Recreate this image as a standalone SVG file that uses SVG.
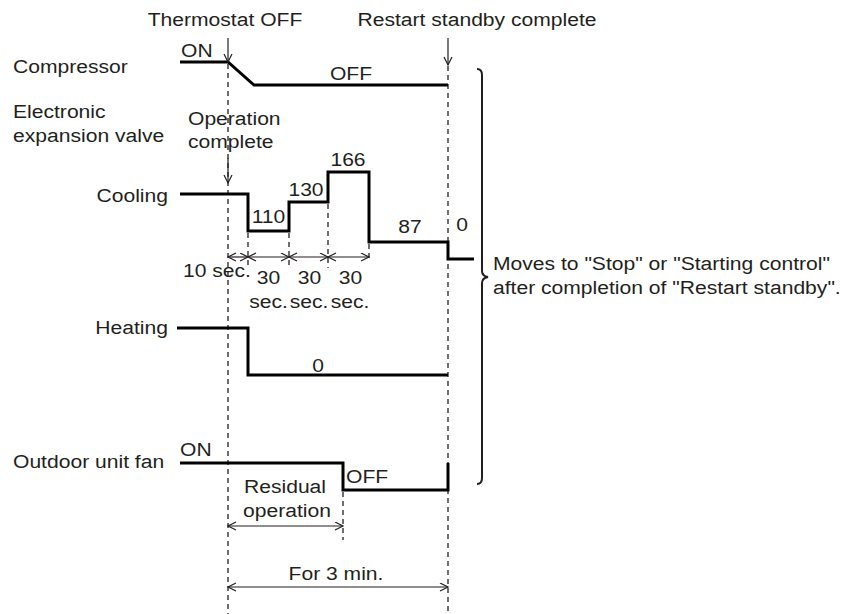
<svg xmlns="http://www.w3.org/2000/svg" width="853" height="614" viewBox="0 0 853 614">
<defs>
<style>
text{font-family:"Liberation Sans",Arial,Helvetica,sans-serif;font-size:19px;fill:#231f20}
.m{text-anchor:middle}
.e{text-anchor:end}
.sig{fill:none;stroke:#000;stroke-width:3;stroke-linejoin:miter}
.dash{fill:none;stroke:#231f20;stroke-width:1.3;stroke-dasharray:5,4}
.arr{fill:none;stroke:#231f20;stroke-width:1.2}
.brace{fill:none;stroke:#231f20;stroke-width:2}
</style>
<marker id="ah" markerWidth="12" markerHeight="12" refX="9" refY="4.5" orient="auto-start-reverse" markerUnits="userSpaceOnUse">
<path d="M1,0.5 L9,4.5 L1,8.5" fill="none" stroke="#231f20" stroke-width="1.2"/>
</marker>
</defs>
<rect width="853" height="614" fill="#fff"/>

<g id="timeline-markers">
<text class="m" transform="translate(225,26) scale(1.11,1)">Thermostat OFF</text>
<text class="m" transform="translate(477,26) scale(1.11,1)">Restart standby complete</text>
<line class="dash" x1="228" y1="64" x2="228" y2="614"/>
<line class="dash" x1="448" y1="66" x2="448" y2="614"/>
</g>

<g id="compressor">
<text transform="translate(13,73) scale(1.11,1)">Compressor</text>
<text transform="translate(181,57) scale(1.11,1)">ON</text>
<text class="m" transform="translate(351,80) scale(1.11,1)">OFF</text>
<polyline class="sig" points="180,62 228,62 254,85 448,85"/>
</g>

<g id="eev-cooling">
<text transform="translate(13,118) scale(1.11,1)">Electronic</text>
<text transform="translate(13,142) scale(1.11,1)">expansion valve</text>
<text transform="translate(188,125) scale(1.11,1)">Operation</text>
<text transform="translate(188,148) scale(1.11,1)">complete</text>
<text class="e" transform="translate(168,202) scale(1.11,1)">Cooling</text>
<polyline class="sig" points="180,194 248,194 248,231 289,231 289,202 328,202 328,172 369,172 369,242 448,242 448,259 474,259"/>
<text class="m" transform="translate(268.5,223) scale(1.11,1)">110</text>
<text class="m" transform="translate(306,196) scale(1.11,1)">130</text>
<text class="m" transform="translate(348,166) scale(1.11,1)">166</text>
<text class="m" transform="translate(410,233) scale(1.11,1)">87</text>
<text class="m" transform="translate(462,231) scale(1.11,1)">0</text>
<line class="dash" x1="248" y1="233" x2="248" y2="268"/>
<line class="dash" x1="289" y1="233" x2="289" y2="268"/>
<line class="dash" x1="328" y1="204" x2="328" y2="268"/>
<line class="dash" x1="369" y1="244" x2="369" y2="260"/>
<text transform="translate(183,277) scale(1.11,1)">10 sec.</text>
<text class="m" transform="translate(268.5,284) scale(1.11,1)">30</text>
<text class="m" transform="translate(309.5,284) scale(1.11,1)">30</text>
<text class="m" transform="translate(350.5,284) scale(1.11,1)">30</text>
<text class="m" transform="translate(268.5,308) scale(1.11,1)">sec.</text>
<text class="m" transform="translate(309,308) scale(1.11,1)">sec.</text>
<text class="m" transform="translate(350,308) scale(1.11,1)">sec.</text>
</g>

<g id="eev-heating">
<text class="e" transform="translate(168,334) scale(1.11,1)">Heating</text>
<polyline class="sig" points="177,328 248,328 248,375 448,375"/>
<text class="m" transform="translate(318,372) scale(1.11,1)">0</text>
</g>

<g id="outdoor-fan">
<text transform="translate(13,468) scale(1.11,1)">Outdoor unit fan</text>
<text transform="translate(180,456) scale(1.11,1)">ON</text>
<polyline class="sig" points="180,463 343,463 343,490 448,490 448,463"/>
<text transform="translate(346,483) scale(1.11,1)">OFF</text>
<text class="m" transform="translate(285,493) scale(1.11,1)">Residual</text>
<text class="m" transform="translate(287,517) scale(1.11,1)">operation</text>
<line class="dash" x1="343" y1="492" x2="343" y2="540"/>
<text class="m" transform="translate(336,580) scale(1.11,1)">For 3 min.</text>
</g>

<g id="connectors">
<line class="arr" x1="228" y1="38" x2="228" y2="62" marker-end="url(#ah)"/>
<line class="arr" x1="448" y1="38" x2="448" y2="65" marker-end="url(#ah)"/>
<line class="arr" x1="228" y1="158" x2="228" y2="183" marker-end="url(#ah)"/>
<line class="arr" x1="228" y1="257" x2="248" y2="257" marker-start="url(#ah)" marker-end="url(#ah)"/>
<line class="arr" x1="248" y1="257" x2="289" y2="257" marker-start="url(#ah)" marker-end="url(#ah)"/>
<line class="arr" x1="289" y1="257" x2="328" y2="257" marker-start="url(#ah)" marker-end="url(#ah)"/>
<line class="arr" x1="328" y1="257" x2="369" y2="257" marker-start="url(#ah)" marker-end="url(#ah)"/>
<line class="arr" x1="228" y1="526" x2="343" y2="526" marker-start="url(#ah)" marker-end="url(#ah)"/>
<line class="arr" x1="228" y1="587" x2="448" y2="587" marker-start="url(#ah)" marker-end="url(#ah)"/>
</g>

<g id="brace-note">
<path class="brace" d="M477,69 Q482,69 482,75 L482,271 Q482,276 488,277 Q482,278 482,283 L482,478 Q482,484 477,484"/>
<text transform="translate(493,270) scale(1.11,1)">Moves to "Stop" or "Starting control"</text>
<text transform="translate(493,294) scale(1.11,1)">after completion of "Restart standby".</text>
</g>
</svg>
